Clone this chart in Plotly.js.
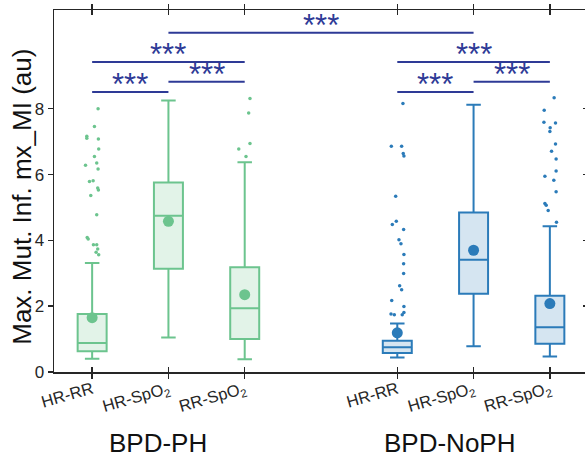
<!DOCTYPE html>
<html>
<head>
<meta charset="utf-8">
<script src="https://cdn.plot.ly/plotly-3.0.1.min.js"></script>
<style>html,body{margin:0;padding:0;overflow:hidden;background:#fff;}</style>
</head>
<body>
<div id="chart" style="width:600px;height:457px;"></div>
<script>
// ---------- data ----------
var groups = ['BPD-PH', 'BPD-NoPH'];
var pairs = ['HR-RR', 'HR-SpO<sub>2</sub>', 'RR-SpO<sub>2</sub>'];

// box statistics per pair (HR-RR, HR-SpO2, RR-SpO2)
var phLower  = [0.40, 1.05, 0.39];
var phQ1     = [0.63, 3.14, 1.00];
var phMedian = [0.88, 4.75, 1.94];
var phQ3     = [1.76, 5.76, 3.18];
var phUpper  = [3.31, 8.25, 6.37];
var phMean   = [1.65, 4.58, 2.35];

var nophLower  = [0.44, 0.78, 0.47];
var nophQ1     = [0.58, 2.38, 0.86];
var nophMedian = [0.75, 3.41, 1.36];
var nophQ3     = [0.95, 4.85, 2.32];
var nophUpper  = [1.47, 8.12, 4.43];
var nophMean   = [1.19, 3.70, 2.08];

// outliers (values) and their horizontal jitter (category units)
var phHrRrOut = [8.00, 7.46, 7.16, 7.10, 7.08, 6.78, 6.55, 6.28, 6.35, 6.17, 5.79, 5.81, 5.59, 5.53, 5.36, 4.78, 4.09, 4.04, 3.87, 3.87, 3.74, 3.64, 3.56];
var phHrRrJit = [0.078, 0.03, -0.07, -0.07, 0.082, 0.086, 0.03, -0.087, 0.06, 0.078, -0.035, 0.013, 0.073, 0.082, -0.018, 0.06, -0.065, -0.052, 0.017, 0.06, 0.073, 0.052, 0.086];
var phHrSpOut = [];
var phHrSpJit = [];
var phRrSpOut = [8.31, 7.87, 6.94, 6.78, 6.55];
var phRrSpJit = [0.069, 0.052, 0.069, -0.078, 0.017];

var nophHrRrOut = [8.16, 6.86, 6.86, 6.64, 6.56, 5.34, 4.58, 4.48, 4.33, 4.02, 3.90, 3.57, 3.29, 2.99, 2.62, 2.50, 2.17, 1.99, 1.76, 1.74, 1.74, 1.81];
var nophHrRrJit = [0.074, -0.078, 0.057, 0.078, 0.087, -0.021, -0.013, -0.065, 0.083, 0.022, 0.048, 0.087, 0.083, 0.083, 0.031, 0.057, -0.073, 0.087, -0.082, -0.039, 0.065, 0.087];
var nophHrSpOut = [];
var nophHrSpJit = [];
var nophRrSpOut = [8.33, 7.95, 7.59, 7.57, 7.42, 7.31, 6.93, 6.71, 6.47, 6.11, 5.95, 5.83, 5.48, 5.12, 5.07, 4.91, 4.55];
var nophRrSpJit = [0.056, -0.074, -0.078, 0.074, 0.004, 0.0, 0.074, 0.022, 0.082, 0.082, -0.065, 0.052, 0.082, -0.065, -0.048, -0.022, 0.087];

// significance comparisons: [group, pairA, group, pairB, level, label]
var comparisons = [
  [0, 0, 0, 1, 8.51, '***'],
  [0, 1, 0, 2, 8.82, '***'],
  [0, 0, 0, 2, 9.42, '***'],
  [0, 1, 1, 1, 10.31, '***'],
  [1, 0, 1, 1, 8.51, '***'],
  [1, 1, 1, 2, 8.82, '***'],
  [1, 0, 1, 2, 9.42, '***']
];

var yTitle = 'Max. Mut. Inf. mx_MI (au)';

// ---------- styles ----------
var green = '#6cc48e', greenFill = 'rgba(108,196,142,0.2)';
var blue = '#2b7bb9', blueFill = 'rgba(43,123,185,0.2)';
var sigColor = '#2e3a96';
var txt = '#262626';
var FONT = 'Liberation Sans, Arial, sans-serif';

function pos(g, i) { return g * 4 + i + 1; }

var phX = pairs.map(function (_, i) { return pos(0, i); });
var nophX = pairs.map(function (_, i) { return pos(1, i); });

function boxTrace(xs, lo, q1, med, q3, up, col, fill) {
  return {
    type: 'box', x: xs, q1: q1, median: med, q3: q3,
    lowerfence: lo, upperfence: up,
    width: 0.38, whiskerwidth: 0.5,
    line: {color: col, width: 2}, fillcolor: fill,
    boxpoints: false, hoverinfo: 'skip', showlegend: false
  };
}

function meanTrace(xs, m, col) {
  return {type: 'scatter', mode: 'markers', x: xs, y: m,
    marker: {color: col, size: 11}, showlegend: false, hoverinfo: 'skip'};
}

function outTrace(g, i, vals, jit, col) {
  return {type: 'scatter', mode: 'markers',
    x: vals.map(function (_, k) { return pos(g, i) + jit[k]; }), y: vals,
    marker: {color: col, size: 3.5}, showlegend: false, hoverinfo: 'skip'};
}

var traces = [
  boxTrace(phX, phLower, phQ1, phMedian, phQ3, phUpper, green, greenFill),
  boxTrace(nophX, nophLower, nophQ1, nophMedian, nophQ3, nophUpper, blue, blueFill),
  outTrace(0, 0, phHrRrOut, phHrRrJit, green),
  outTrace(0, 1, phHrSpOut, phHrSpJit, green),
  outTrace(0, 2, phRrSpOut, phRrSpJit, green),
  outTrace(1, 0, nophHrRrOut, nophHrRrJit, blue),
  outTrace(1, 1, nophHrSpOut, nophHrSpJit, blue),
  outTrace(1, 2, nophRrSpOut, nophRrSpJit, blue),
  meanTrace(phX, phMean, green),
  meanTrace(nophX, nophMean, blue),
  {type: 'scatter', x: [0], y: [0], yaxis: 'y2', mode: 'markers',
   marker: {opacity: 0}, showlegend: false, hoverinfo: 'skip'}
];

var shapes = [], annotations = [];
comparisons.forEach(function (c) {
  var x0 = pos(c[0], c[1]), x1 = pos(c[2], c[3]);
  shapes.push({type: 'line', xref: 'x', yref: 'y', x0: x0, x1: x1, y0: c[4], y1: c[4],
    line: {color: sigColor, width: 2}});
  annotations.push({xref: 'x', yref: 'y', x: (x0 + x1) / 2, y: c[4], text: c[5],
    showarrow: false, yanchor: 'bottom', yshift: -12,
    font: {family: FONT, size: 31, color: sigColor}});
});

groups.forEach(function (gname, g) {
  annotations.push({xref: 'x', yref: 'paper', x: pos(g, 1) + (g === 0 ? -0.14 : -0.31), y: 0,
    yshift: -71, yanchor: 'middle', text: gname, showarrow: false,
    font: {family: FONT, size: 26, color: '#111'}});
});

annotations.push({xref: 'paper', yref: 'paper', x: -0.06, y: 0.484, textangle: -90,
  xanchor: 'center', yanchor: 'middle', text: yTitle, showarrow: false,
  font: {family: FONT, size: 26, color: '#111'}});

var layout = {
  width: 600, height: 457,
  margin: {l: 54, r: 12, t: 10, b: 85},
  paper_bgcolor: '#fff', plot_bgcolor: '#fff',
  font: {family: FONT, color: txt},
  showlegend: false,
  xaxis: {
    range: [0.5, 7.5], tickmode: 'array',
    tickvals: phX.concat(nophX), ticktext: pairs.concat(pairs),
    tickangle: -16, tickfont: {size: 16.5, color: txt},
    ticks: 'inside', ticklen: 5, tickwidth: 1.5, tickcolor: txt,
    showline: true, linecolor: txt, linewidth: 1.5, mirror: 'allticks',
    showgrid: false, zeroline: false, fixedrange: true
  },
  yaxis: {
    range: [0, 11], tickvals: [0, 2, 4, 6, 8],
    tickfont: {size: 17, color: txt},
    ticks: 'outside', ticklen: 5, tickwidth: 1.5, tickcolor: txt,
    showline: true, linecolor: txt, linewidth: 1.5, mirror: true,
    showgrid: false, zeroline: false
  },
  yaxis2: {
    overlaying: 'y', side: 'right', range: [0, 11], tickvals: [0, 2, 4, 6, 8],
    showticklabels: false, ticks: 'inside', ticklen: 5, tickwidth: 1.5, tickcolor: txt,
    showline: false, showgrid: false, zeroline: false
  },
  shapes: shapes,
  annotations: annotations
};

Plotly.newPlot('chart', traces, layout, {staticPlot: true, displayModeBar: false});
</script>
</body>
</html>
